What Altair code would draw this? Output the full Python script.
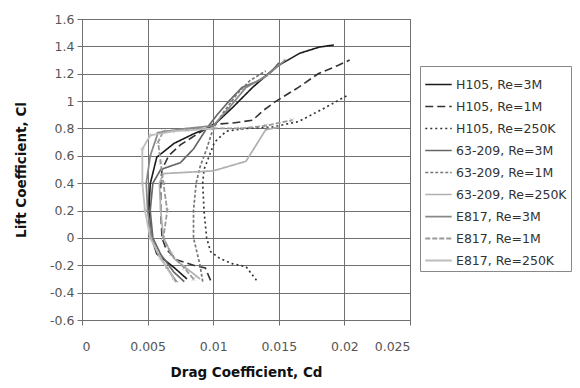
import altair as alt
import pandas as pd

series_names = ["H105, Re=3M", "H105, Re=1M", "H105, Re=250K",
                "63-209, Re=3M", "63-209, Re=1M", "63-209, Re=250K",
                "E817, Re=3M", "E817, Re=1M", "E817, Re=250K"]

cd_h105_3m = [0.0080, 0.0070, 0.0057, 0.0053, 0.0051, 0.0052, 0.0057, 0.0070, 0.0085, 0.0100, 0.0115, 0.0130, 0.0148, 0.0166, 0.0181, 0.0192]
cl_h105_3m = [-0.30, -0.215, -0.117, 0.0, 0.2, 0.395, 0.59, 0.69, 0.76, 0.82, 0.955, 1.10, 1.25, 1.35, 1.395, 1.41]

cd_h105_1m = [0.0098, 0.0094, 0.0085, 0.0072, 0.0064, 0.0061, 0.0060, 0.0060, 0.0061, 0.0066, 0.0075, 0.0088, 0.0100, 0.0115, 0.0130, 0.0138, 0.0148, 0.0165, 0.0180, 0.0195, 0.0204]
cl_h105_1m = [-0.31, -0.22, -0.20, -0.16, -0.08, 0.0, 0.2, 0.4, 0.5, 0.60, 0.68, 0.76, 0.83, 0.84, 0.86, 0.93, 1.0, 1.1, 1.2, 1.26, 1.30]

cd_h105_250k = [0.0133, 0.0125, 0.0115, 0.0105, 0.0098, 0.0095, 0.0093, 0.0092, 0.0093, 0.0097, 0.0101, 0.0110, 0.0125, 0.0145, 0.0165, 0.0185, 0.0202]
cl_h105_250k = [-0.31, -0.21, -0.19, -0.15, -0.10, 0.0, 0.2, 0.4, 0.5, 0.6, 0.7, 0.78, 0.80, 0.81, 0.85, 0.95, 1.04]

cd_63_3m = [0.0078, 0.0070, 0.0060, 0.0054, 0.0052, 0.0054, 0.0060, 0.0075, 0.0085, 0.0095, 0.0103, 0.0112, 0.0122, 0.0135, 0.0145, 0.0150]
cl_63_3m = [-0.32, -0.25, -0.12, 0.0, 0.2, 0.4, 0.5, 0.55, 0.65, 0.80, 0.90, 1.0, 1.1, 1.15, 1.22, 1.28]

cd_63_1m = [0.0092, 0.0090, 0.0085, 0.0085, 0.0087, 0.0090, 0.0095, 0.0100, 0.0108, 0.0118, 0.0128, 0.0140]
cl_63_1m = [-0.32, -0.20, 0.0, 0.2, 0.4, 0.52, 0.65, 0.80, 0.92, 1.05, 1.15, 1.22]

cd_63_250k = [0.0090, 0.0070, 0.0062, 0.0060, 0.0059, 0.0062, 0.0100, 0.0125, 0.0140, 0.0150]
cl_63_250k = [-0.30, -0.15, 0.0, 0.2, 0.4, 0.47, 0.49, 0.56, 0.79, 0.81]

cd_e817_3m = [0.0072, 0.0065, 0.0058, 0.0053, 0.0050, 0.0049, 0.0052, 0.0058, 0.0080, 0.0100, 0.0112, 0.0125, 0.0140, 0.0150, 0.0155]
cl_e817_3m = [-0.32, -0.22, -0.12, 0.0, 0.2, 0.4, 0.6, 0.77, 0.80, 0.82, 0.95, 1.10, 1.18, 1.26, 1.30]

cd_e817_1m = [0.0085, 0.0078, 0.0068, 0.0062, 0.0065, 0.0062, 0.0060, 0.0058, 0.0062, 0.0080, 0.0100, 0.0120, 0.0140, 0.0160]
cl_e817_1m = [-0.30, -0.22, -0.12, 0.0, 0.2, 0.4, 0.55, 0.70, 0.78, 0.79, 0.80, 0.80, 0.82, 0.86]

cd_e817_250k = [0.0070, 0.0060, 0.0052, 0.0048, 0.0046, 0.0046, 0.0052, 0.0070, 0.0100]
cl_e817_250k = [-0.30, -0.15, 0.0, 0.2, 0.4, 0.65, 0.75, 0.78, 0.80]

x_ticks = [0, 0.005, 0.01, 0.015, 0.02, 0.025]
y_ticks = [-0.6, -0.4, -0.2, 0, 0.2, 0.4, 0.6, 0.8, 1, 1.2, 1.4, 1.6]

all_cd = [cd_h105_3m, cd_h105_1m, cd_h105_250k, cd_63_3m, cd_63_1m, cd_63_250k, cd_e817_3m, cd_e817_1m, cd_e817_250k]
all_cl = [cl_h105_3m, cl_h105_1m, cl_h105_250k, cl_63_3m, cl_63_1m, cl_63_250k, cl_e817_3m, cl_e817_1m, cl_e817_250k]

rows = []
for name, cds, cls in zip(series_names, all_cd, all_cl):
    for i, (cd, cl) in enumerate(zip(cds, cls)):
        rows.append({"series": name, "Cd": cd, "Cl": cl, "order": i})
df = pd.DataFrame(rows)

colors = ["#1a1a1a", "#333333", "#333333", "#666666", "#777777", "#b0b0b0", "#888888", "#999999", "#bdbdbd"]
dashes = [[1, 0], [8, 4], [2, 3], [1, 0], [3, 2], [1, 0], [1, 0], [5, 2], [1, 0]]
widths = [1.6, 1.8, 1.6, 1.0, 1.0, 1.0, 1.0, 1.0, 1.0]

label_expr = "replace(format(datum.value, '~g'), '\u2212', '-')"

x_enc = alt.X("Cd:Q", title="Drag Coefficient, Cd",
              scale=alt.Scale(domain=[0, 0.025], nice=False),
              axis=alt.Axis(values=x_ticks, tickCount=len(x_ticks), labelExpr=label_expr,
                            labelOverlap=False, labelPadding=15, titlePadding=13))
y_enc = alt.Y("Cl:Q", title="Lift Coefficient, Cl",
              scale=alt.Scale(domain=[-0.6, 1.6], nice=False),
              axis=alt.Axis(values=y_ticks, tickCount=len(y_ticks), labelExpr=label_expr,
                            labelOverlap=False, labelPadding=3, titlePadding=21))

lines = alt.Chart(df).mark_line().encode(
    x=x_enc, y=y_enc, order="order:Q",
    color=alt.Color("series:N", sort=series_names,
                    scale=alt.Scale(domain=series_names, range=colors),
                    legend=alt.Legend(title=None, orient="none", legendX=338, legendY=47,
                                      symbolType="stroke", symbolSize=700, rowPadding=1,
                                      labelFontSize=12.5, labelColor="#333", labelOffset=3,
                                      strokeColor="#888", padding=4, fillColor="white",
                                      labelLimit=200, symbolStrokeWidth=1.3)),
    strokeDash=alt.StrokeDash("series:N", sort=series_names,
                              scale=alt.Scale(domain=series_names, range=dashes), legend=None),
    strokeWidth=alt.StrokeWidth("series:N", sort=series_names,
                                scale=alt.Scale(domain=series_names, range=widths), legend=None),
)

e817 = df[df["series"].str.startswith("E817")]
points = alt.Chart(e817).mark_point(size=14, strokeWidth=1, filled=False).encode(
    x=x_enc, y=y_enc,
    color=alt.Color("series:N", scale=alt.Scale(domain=series_names, range=colors), legend=None),
    shape=alt.Shape("series:N", scale=alt.Scale(domain=["E817, Re=3M", "E817, Re=1M", "E817, Re=250K"],
                                                range=["stroke", "M-1,-1L1,1M1,-1L-1,1", "diamond"]),
                    legend=None),
)

chart = alt.layer(lines, points).properties(
    width=328, height=301,
    autosize=alt.AutoSizeParams(type="none"),
    padding={"left": 74, "top": 11, "right": 162, "bottom": 68},
).configure_axis(
    gridColor="#707070", gridWidth=1, domainColor="#707070", tickColor="#707070",
    tickSize=5, labelFont="DejaVu Sans", labelFontSize=12.5, labelColor="#555555",
    titleFont="DejaVu Sans", titleFontSize=13.5, titleFontWeight="bold", titleColor="#111111",
).configure_legend(
    labelFont="DejaVu Sans",
).configure_view(stroke="#707070")

chart.save("out.html", embed_options={"renderer": "svg", "actions": False})
